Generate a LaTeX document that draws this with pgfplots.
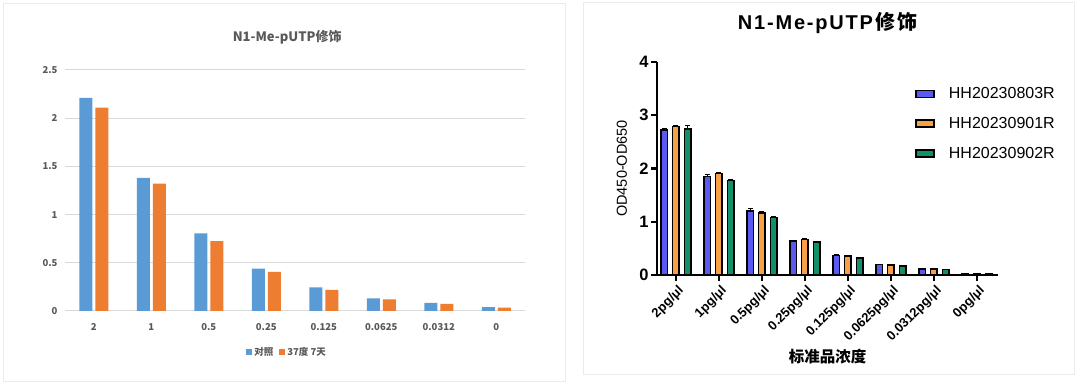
\documentclass[border=0pt]{standalone}
\usepackage{fontspec}
\usepackage{pgfplots}
\pgfplotsset{compat=1.18}
\setmainfont{Liberation Sans}
\newfontfamily\cjk{Noto Sans CJK SC}
\newfontfamily\titlefont[LetterSpace=9]{Liberation Sans}
\definecolor{xlblue}{HTML}{5B9BD5}
\definecolor{xlorange}{HTML}{ED7D31}
\definecolor{xlgray}{HTML}{595959}
\definecolor{xlgrid}{HTML}{D9D9D9}
\definecolor{gpblue}{HTML}{5A5AF2}
\definecolor{gporange}{HTML}{F9A046}
\definecolor{gpgreen}{HTML}{11906A}
\pgfplotsset{
  gplegend/.style={legend image code/.code={\draw[##1,/tikz/.cd,line width=1.6pt] (0pt,-3.5pt) rectangle (18pt,3.5pt);}},
  xllegend/.style={legend image code/.code={\fill[##1,/tikz/.cd,draw=none] (0pt,-3pt) rectangle (6pt,3pt);}},
}
\begin{document}
\begin{tikzpicture}
\useasboundingbox (0pt,0pt) rectangle (1080pt,385pt);
\fill[white] (0pt,0pt) rectangle (1080pt,385pt);
\draw[black!8, line width=1pt] (3pt,3pt) rectangle (565pt,381.5pt);
\draw[black!8, line width=1pt] (583pt,10pt) rectangle (1074pt,382.5pt);

% ---------------- left (Excel style) ----------------
\begin{axis}[
  at={(65pt,74pt)}, anchor=south west,
  scale only axis, width=460pt, height=241pt,
  xmin=-0.5, xmax=7.5, ymin=0, ymax=2.5,
  ybar=3pt, bar width=13pt,
  axis lines=left, axis line style={-},
  x axis line style={draw=xlgrid, line width=1pt},
  y axis line style={draw=none},
  major tick length=0pt,
  ymajorgrids, grid style={xlgrid, line width=1pt},
  xtick={0,...,7},
  xticklabels={2,1,0.5,0.25,0.125,0.0625,0.0312,0},
  ytick={0,0.5,1,1.5,2,2.5},
  yticklabels={0,0.5,1,1.5,2,2.5},
  tick label style={font=\cjk\fontsize{9.5}{11}\selectfont\bfseries, text=xlgray},
  xticklabel style={yshift=-9pt},
  yticklabel style={xshift=-4pt},
  title={\cjk\bfseries\fontsize{13}{15}\selectfont N1-Me-pUTP修饰},
  title style={at={(axis description cs:0.483,1.112)}, anchor=center, text=xlgray},
  legend style={at={(axis description cs:0.483,-0.17)}, anchor=center, draw=none,
    font=\cjk\fontsize{9.5}{11}\selectfont\bfseries, text=xlgray, legend columns=2,
    /tikz/every even column/.append style={column sep=4pt}, inner sep=0pt},
  legend cell align=left,
]
\addplot[fill=xlblue, draw=none, xllegend] coordinates {
 (0,2.21) (1,1.38) (2,0.805) (3,0.44) (4,0.245) (5,0.13) (6,0.085) (7,0.04)};
\addplot[fill=xlorange, draw=none, xllegend] coordinates {
 (0,2.11) (1,1.32) (2,0.725) (3,0.405) (4,0.22) (5,0.12) (6,0.075) (7,0.035)};
\legend{对照,37度 7天}
\end{axis}

% ---------------- right (GraphPad style) ----------------
\begin{axis}[
  at={(657pt,110pt)}, anchor=south west,
  scale only axis, width=341pt, height=213pt,
  xmin=-0.44, xmax=7.49, ymin=0, ymax=4,
  ybar=5.2pt, bar width=6.5pt,
  axis lines=left, axis line style={-, line width=2.2pt, black},
  tick style={black, line width=2.2pt},
  major tick length=6pt, tick align=outside,
  xtick={0,...,7},
  xticklabels={2pg/μl,1pg/μl,0.5pg/μl,0.25pg/μl,0.125pg/μl,0.0625pg/μl,0.0312pg/μl,0pg/μl},
  ytick={0,1,2,3,4},
  yticklabels={0,1,2,3,4},
  xticklabel style={rotate=45, anchor=north east, font=\bfseries\fontsize{13}{13}\selectfont, xshift=2pt},
  yticklabel style={font=\bfseries\fontsize{16.5}{16}\selectfont, xshift=1pt},
  title={\titlefont\bfseries\fontsize{20}{22}\selectfont N1-Me-pUTP\hspace{2pt}{\cjk 修\hspace{2pt}饰}},
  title style={at={(axis description cs:0.5,1.155)}, anchor=center},
  ylabel={OD450-OD650},
  ylabel style={at={(axis description cs:-0.103,0.5)}, anchor=center, rotate=0, font=\fontsize{14.5}{16}\selectfont},
  xlabel={\cjk\bfseries 标准品浓度},
  xlabel style={at={(axis description cs:0.5,-0.385)}, anchor=center, font=\fontsize{15.5}{17}\selectfont},
  legend style={at={(axis description cs:0.757,0.89)}, anchor=north west, draw=none,
    font=\fontsize{16}{16}\selectfont, row sep=13pt, inner sep=0pt,
    /tikz/every odd column/.append style={column sep=12pt}},
  legend cell align=left,
  error bars/y dir=plus, error bars/y explicit,
  error bars/error bar style={black, line width=1pt},
  error bars/error mark options={rotate=90, mark size=2.5pt, line width=1pt, black},
]
\addplot[fill=gpblue, draw=black, line width=1.5pt, gplegend] coordinates {
 (0,2.72) +- (0,0.03) (1,1.85) +- (0,0.04) (2,1.20) +- (0,0.04) (3,0.635) +- (0,0.015)
 (4,0.37) +- (0,0.01) (5,0.195) +- (0,0.01) (6,0.11) +- (0,0.005) (7,0.02) +- (0,0.003)};
\addplot[fill=gporange, draw=black, line width=1.5pt, gplegend] coordinates {
 (0,2.785) +- (0,0.03) (1,1.905) +- (0,0.02) (2,1.165) +- (0,0.02) (3,0.665) +- (0,0.015)
 (4,0.36) +- (0,0.01) (5,0.19) +- (0,0.01) (6,0.11) +- (0,0.005) (7,0.02) +- (0,0.003)};
\addplot[fill=gpgreen, draw=black, line width=1.5pt, gplegend] coordinates {
 (0,2.745) +- (0,0.06) (1,1.77) +- (0,0.02) (2,1.08) +- (0,0.015) (3,0.62) +- (0,0.015)
 (4,0.315) +- (0,0.01) (5,0.17) +- (0,0.01) (6,0.10) +- (0,0.005) (7,0.02) +- (0,0.003)};
\legend{HH20230803R,HH20230901R,HH20230902R}
\end{axis}
\end{tikzpicture}
\end{document}
